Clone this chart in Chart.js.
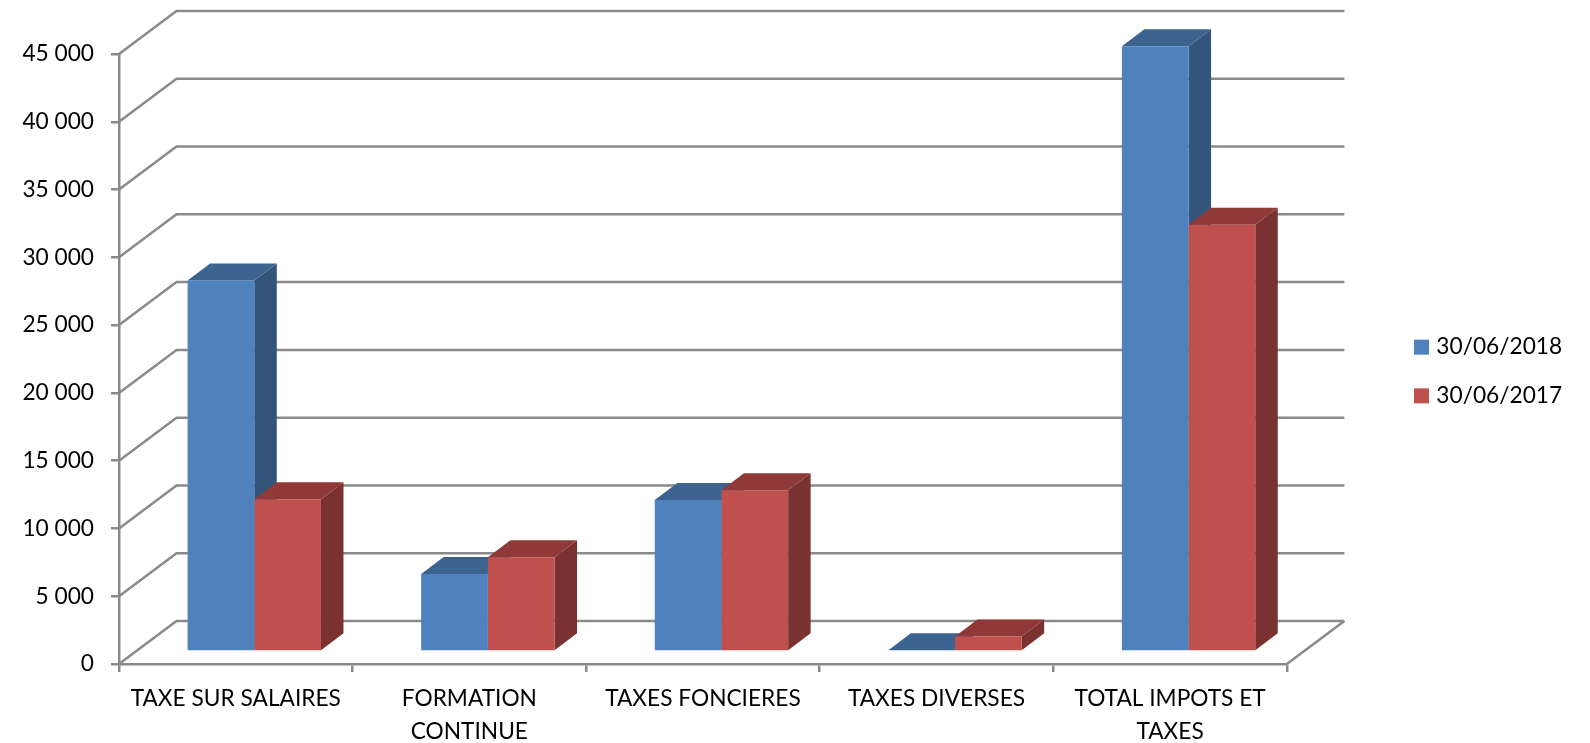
<!DOCTYPE html>
<html lang="fr">
<head>
<meta charset="utf-8">
<title>Impots et taxes</title>
<script src="https://cdn.jsdelivr.net/npm/chart.js@4"></script>
<style>
  html, body { margin: 0; padding: 0; background: #fff; }
  canvas { display: block; }
</style>
</head>
<body>
<canvas id="chartTaxes" width="1590" height="743"></canvas>
<script>
// Donnees
const categories = [
    'TAXE SUR SALAIRES',
    ['FORMATION', 'CONTINUE'],
    'TAXES FONCIERES',
    'TAXES DIVERSES',
    ['TOTAL IMPOTS ET', 'TAXES']
];
const valeurs2018 = [27360, 5715, 11175, 100, 44655];
const valeurs2017 = [11235, 6955, 11900, 1108, 31490];
const tickLabels = ['0', '5 000', '10 000', '15 000', '20 000', '25 000', '30 000', '35 000', '40 000', '45 000'];

// Couleurs des faces (avant, cote, dessus)
const bleu = { front: '#4F81BD', side: '#335579', top: '#3D6491' };
const rouge = { front: '#C0504D', side: '#7A3230', top: '#8F3A38' };
const gridColor = '#8A8A8A';

// Profondeur du mur du fond et des barres
const wallDx = 57.5, wallDy = -43;
const barDx = 22.5, barDy = -17;
const shiftX = 18.5, shiftY = -12.5;

function poly(ctx, pts, color) {
    ctx.fillStyle = color;
    ctx.beginPath();
    pts.forEach((p, i) => i ? ctx.lineTo(p[0], p[1]) : ctx.moveTo(p[0], p[1]));
    ctx.closePath();
    ctx.fill();
}

const effet3d = {
    id: 'effet3d',
    afterLayout(chart) {
        // legende placee a droite, centree sur la hauteur de la page
        const legend = chart.legend;
        legend.left = 1418 - legend.options.labels.padding;
        legend.right = chart.width;
        legend.top = 0;
        legend.bottom = chart.height;
    },
    beforeDatasetsDraw(chart) {
        const { ctx, chartArea, scales } = chart;
        // murs : une ligne en biais puis la ligne du fond pour chaque graduation
        ctx.save();
        ctx.strokeStyle = gridColor;
        ctx.lineWidth = 2.5;
        ctx.lineJoin = 'round';
        scales.y.ticks.forEach(t => {
            const py = scales.y.getPixelForValue(t.value);
            ctx.beginPath();
            ctx.moveTo(chartArea.left, py);
            ctx.lineTo(chartArea.left + wallDx, py + wallDy);
            ctx.lineTo(chartArea.right + wallDx, py + wallDy);
            ctx.stroke();
        });
        const py0 = scales.y.getPixelForValue(0);
        ctx.beginPath();
        ctx.moveTo(chartArea.right, py0);
        ctx.lineTo(chartArea.right + wallDx, py0 + wallDy);
        ctx.stroke();
        ctx.restore();
        // les barres sont au milieu de la profondeur du plancher
        ctx.save();
        ctx.translate(shiftX, shiftY);
        // cotes et dessus : bleu puis rouge, les faces avant viennent ensuite
        [bleu, rouge].forEach((faces, i) => {
            chart.getDatasetMeta(i).data.forEach(bar => {
                const left = bar.x - bar.width / 2;
                const right = bar.x + bar.width / 2;
                poly(ctx, [[right, bar.y], [right + barDx, bar.y + barDy], [right + barDx, bar.base + barDy], [right, bar.base]], faces.side);
                poly(ctx, [[left, bar.y], [left + barDx, bar.y + barDy], [right + barDx, bar.y + barDy], [right, bar.y]], faces.top);
            });
        });
    },
    afterDatasetsDraw(chart) {
        chart.ctx.restore();
    }
};

Chart.defaults.font.family = 'Lato';
Chart.defaults.color = '#000';

new Chart(document.getElementById('chartTaxes').getContext('2d'), {
    type: 'bar',
    data: {
        labels: categories,
        datasets: [
            { label: '30/06/2018', data: valeurs2018, backgroundColor: bleu.front, clip: false },
            { label: '30/06/2017', data: valeurs2017, backgroundColor: rouge.front, clip: false }
        ]
    },
    options: {
        responsive: false,
        animation: false,
        devicePixelRatio: 1,
        layout: { padding: { top: 54, right: 123, left: 0, bottom: 0 } },
        categoryPercentage: 0.571,
        barPercentage: 1,
        plugins: {
            tooltip: { enabled: false },
            legend: {
                position: 'right',
                labels: {
                    // petit carre + bordure epaisse : rapproche le texte du carre
                    boxWidth: 7,
                    boxHeight: 7,
                    padding: 26,
                    font: { size: 22.7 },
                    generateLabels: chart => Chart.defaults.plugins.legend.labels.generateLabels(chart)
                        .map(item => ({ ...item, lineWidth: 8, strokeStyle: item.fillStyle }))
                }
            }
        },
        scales: {
            x: {
                afterFit: s => { s.height = 79; },
                grid: { drawOnChartArea: false, color: gridColor, lineWidth: 2.5, tickLength: 8 },
                border: { color: gridColor, width: 2.5 },
                ticks: { autoSkip: false, maxRotation: 0, minRotation: 0, padding: 11, font: { size: 22.7, lineHeight: 1.42 } }
            },
            y: {
                min: 0,
                max: 45000,
                afterFit: s => { s.width = 119; },
                grid: { drawOnChartArea: false, color: gridColor, lineWidth: 2.5, tickLength: 8 },
                border: { color: gridColor, width: 2.5 },
                ticks: {
                    stepSize: 5000,
                    padding: 17,
                    font: { size: 22.7 },
                    callback: (v, i) => tickLabels[i]
                }
            }
        }
    },
    plugins: [effet3d]
});
</script>
</body>
</html>
